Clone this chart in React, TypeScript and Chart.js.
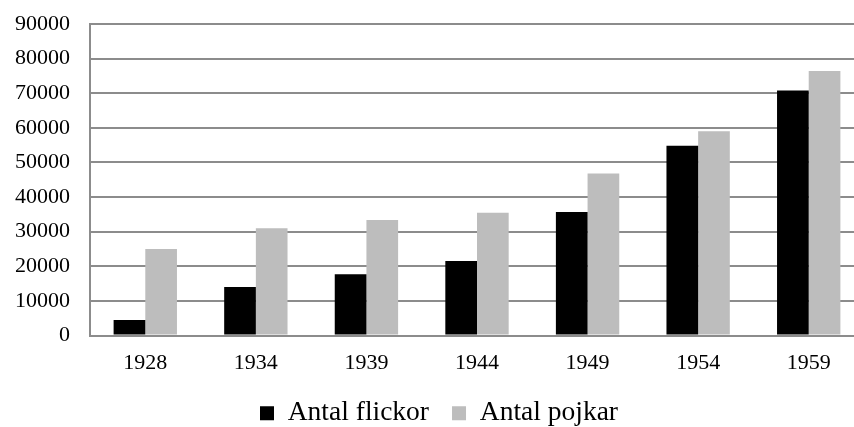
import React, { useEffect, useRef } from "react";
import { Chart, registerables } from "chart.js";

Chart.register(...registerables);

const years = ["1928", "1934", "1939", "1944", "1949", "1954", "1959"];
const flickor = [4500, 14000, 17700, 21500, 35700, 54800, 70800];
const pojkar = [25000, 31000, 33400, 35500, 46800, 59000, 76400];

const FONT = "'Liberation Serif', 'DejaVu Serif', serif";

export default function App() {
  const ref = useRef<HTMLCanvasElement>(null);
  useEffect(() => {
    document.body.style.margin = "0";
    const chart = new Chart(ref.current!, {
      type: "bar",
      data: {
        labels: years,
        datasets: [
          { label: "Antal flickor", data: flickor, backgroundColor: "#000000", borderWidth: 0 },
          { label: "Antal pojkar", data: pojkar, backgroundColor: "#bdbdbd", borderWidth: 0 },
        ],
      },
      options: {
        animation: false,
        responsive: false,
        maintainAspectRatio: false,
        layout: { padding: { top: 0, left: 14, right: 0, bottom: 0 } },
        datasets: { bar: { barPercentage: 1, categoryPercentage: 0.573 } },
        plugins: {
          legend: {
            position: "bottom",
            labels: {
              font: { family: FONT, size: 27.5 },
              color: "#000",
              boxWidth: 14,
              boxHeight: 14,
              padding: 23,
            },
          },
          tooltip: { enabled: false },
        },
        scales: {
          x: {
            grid: { display: false, drawTicks: false },
            border: { display: true, color: "#8c8c8c", width: 2 },
            ticks: { font: { family: FONT, size: 22 }, color: "#000", padding: 15 },
            afterFit: (axis: any) => {
              axis.height = 41;
            },
          },
          y: {
            min: 0,
            max: 90000,
            grid: { color: "#8c8c8c", lineWidth: 2, drawTicks: false },
            border: { display: true, color: "#8c8c8c", width: 2 },
            ticks: {
              stepSize: 10000,
              font: { family: FONT, size: 22 },
              color: "#000",
              padding: 20,
              callback: (v: any) => String(v),
            },
            afterFit: (axis: any) => {
              axis.width = 76;
              axis.paddingTop = 24;
            },
          },
        },
      },
    });
    return () => chart.destroy();
  }, []);
  return (
    <div style={{ position: "fixed", left: 0, top: 0, width: 854, height: 427, overflow: "hidden", background: "#fff" }}>
      <canvas ref={ref} width={864} height={437} style={{ width: 864, height: 437 }} />
    </div>
  );
}
